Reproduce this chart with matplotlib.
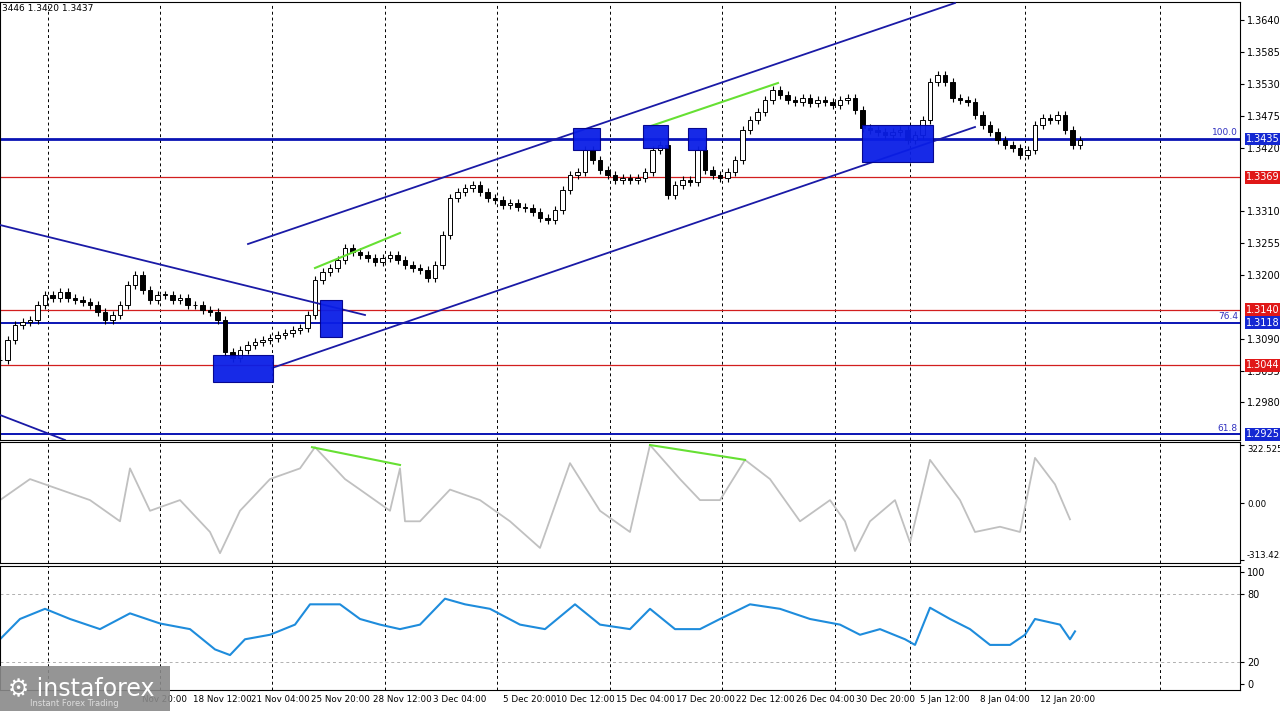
import matplotlib
matplotlib.use("Agg")
import matplotlib.pyplot as plt
from matplotlib.patches import Rectangle
import numpy as np

closes = [1.3053,1.3088,1.3114,1.3119,1.3122,1.3148,1.3166,1.3160,1.3171,1.3160,1.3157,1.3153,1.3148,1.3136,1.3122,1.3131,1.3148,1.3183,1.3200,1.3174,1.3157,1.3166,1.3166,1.3157,1.3160,1.3148,1.3148,1.3140,1.3136,1.3122,1.3067,1.3057,1.3071,1.3079,1.3084,1.3088,1.3091,1.3096,1.3100,1.3105,1.3109,1.3131,1.3191,1.3205,1.3212,1.3226,1.3247,1.3240,1.3235,1.3230,1.3223,1.3230,1.3235,1.3226,1.3217,1.3212,1.3209,1.3195,1.3217,1.3269,1.3333,1.3343,1.3350,1.3355,1.3343,1.3333,1.3330,1.3321,1.3324,1.3318,1.3316,1.3309,1.3299,1.3295,1.3312,1.3347,1.3373,1.3378,1.3416,1.3399,1.3381,1.3373,1.3364,1.3368,1.3364,1.3368,1.3378,1.3416,1.3425,1.3338,1.3355,1.3364,1.3361,1.3416,1.3381,1.3373,1.3368,1.3378,1.3399,1.3450,1.3468,1.3482,1.3502,1.3520,1.3511,1.3502,1.3499,1.3506,1.3497,1.3502,1.3499,1.3494,1.3502,1.3506,1.3485,1.3454,1.3450,1.3447,1.3442,1.3447,1.3450,1.3433,1.3442,1.3468,1.3533,1.3545,1.3533,1.3506,1.3502,1.3499,1.3476,1.3459,1.3447,1.3433,1.3425,1.3420,1.3407,1.3416,1.3459,1.3471,1.3468,1.3477,1.3450,1.3425,1.3433]

cci_x = [0,30,60,90,120,130,150,180,210,220,240,270,300,315,345,360,390,400,405,420,450,480,510,540,570,600,630,650,680,700,720,745,770,800,830,845,855,870,895,910,930,960,975,1000,1020,1035,1055,1070]
cci_v = [18,134,76,18,-99,193,-41,18,-158,-275,-41,134,193,310,134,76,-41,193,-99,-99,76,18,-99,-246,222,-41,-158,322,134,18,18,240,134,-99,18,-99,-263,-99,18,-216,240,18,-158,-129,-158,251,105,-88]

rsi_x = [0,20,45,70,100,130,160,190,215,230,245,270,295,310,340,360,380,400,420,445,465,490,520,545,575,600,630,650,675,700,720,750,780,810,840,860,880,905,915,930,950,970,990,1010,1025,1035,1060,1070,1075]
rsi_v = [40,58,67,58,49,63,54,49,31,26,40,44,53,71,71,58,53,49,53,76,71,67,53,49,71,53,49,67,49,49,58,71,67,58,53,44,49,40,35,68,58,49,35,35,44,58,53,40,47]

xtick_pos = [165,222,280,340,402,460,530,585,645,705,765,825,885,945,1005,1068]
xtick_lab = ["Nov 20:00","18 Nov 12:00","21 Nov 04:00","25 Nov 20:00","28 Nov 12:00","3 Dec 04:00","5 Dec 20:00","10 Dec 12:00","15 Dec 04:00","17 Dec 20:00","22 Dec 12:00","26 Dec 04:00","30 Dec 20:00","5 Jan 12:00","8 Jan 04:00","12 Jan 20:00"]
vgrid = [48,160,272,385,497,610,722,835,910,1025,1160]

price_ticks = [1.3640,1.3585,1.3530,1.3475,1.3420,1.3310,1.3255,1.3200,1.3090,1.3035,1.2980]
levels_blue = [(1.3435,"100.0"),(1.3118,"76.4"),(1.2925,"61.8")]
levels_red = [1.3369,1.3140,1.3044]

BW = 7.5  # px per bar
def bx(px): return px / BW
def py(y): return 1.3675 - 0.0001727 * y

fig = plt.figure(figsize=(12.8, 7.11), dpi=100)
W = 1240/1280
ax = fig.add_axes([0, 1-440/711, W, 438/711])
ax2 = fig.add_axes([0, 1-563/711, W, 121/711])
ax3 = fig.add_axes([0, 1-690/711, W, 124/711])
XMAX = bx(1240)
for a in (ax, ax2, ax3):
    a.set_xlim(0, XMAX)
    a.yaxis.tick_right()
    a.tick_params(axis='y', labelsize=7, length=3, pad=2)
    a.set_xticks([])
    for v in vgrid:
        a.axvline(bx(v), color='black', ls=(0, (3, 3)), lw=0.7)

ax.set_ylim(py(440), py(2))
opens = [closes[0]] + closes[:-1]
for i, (o, c) in enumerate(zip(opens, closes)):
    hi = max(o, c) + 0.0007
    lo = min(o, c) - 0.0007
    ax.vlines(i, lo, hi, color='black', lw=0.8, zorder=3)
    h = max(abs(c - o), 0.00005)
    ax.add_patch(Rectangle((i-0.32, min(o, c)), 0.64, h, facecolor='white' if c >= o else 'black',
                           edgecolor='black', lw=0.7, zorder=4))
ax.set_yticks(price_ticks)
ax.set_yticklabels([f"{t:.4f}" for t in price_ticks])
for lv, lab in levels_blue:
    ax.axhline(lv, color='#0a14b4', lw=2 if lv > 1.34 else 1.4, zorder=2)
    ax.text(XMAX-0.3, lv+0.0003, lab, color='#3030c0', fontsize=6.5, ha='right', va='bottom')
    ax.text(1.005, lv, f"{lv:.4f}", transform=ax.get_yaxis_transform(), fontsize=7, color='white',
            va='center', ha='left', bbox=dict(fc='#1428d2', ec='none', pad=1), zorder=10)
for lv in levels_red:
    ax.axhline(lv, color='#d21e1e', lw=0.9, zorder=2)
    ax.text(1.005, lv, f"{lv:.4f}", transform=ax.get_yaxis_transform(), fontsize=7, color='white',
            va='center', ha='left', bbox=dict(fc='#e01818', ec='none', pad=1), zorder=10)

navy = '#1a1aa6'
for (x1, y1, x2, y2) in [(248,244,955,3),(272,368,975,127),(0,225,365,315),(0,415,65,440)]:
    ax.plot([bx(x1), bx(x2)], [py(y1), py(y2)], color=navy, lw=1.3, zorder=5)
for (x1, y1, x2, y2) in [(315,268,400,233),(645,128,778,83)]:
    ax.plot([bx(x1), bx(x2)], [py(y1), py(y2)], color='#66e033', lw=1.5, zorder=5)
for (x1, x2, y1, y2) in [(213,273,355,382),(320,342,300,337),(573,600,128,150),(643,668,125,148),(688,706,128,150),(862,933,125,162)]:
    ax.add_patch(Rectangle((bx(x1), py(y2)), bx(x2-x1), py(y1)-py(y2), facecolor='#0a1ee6',
                           edgecolor='#00008a', lw=0.8, alpha=0.95, zorder=6))
ax.text(0.002, 0.995, "3446 1.3420 1.3437", transform=ax.transAxes, fontsize=6.5, va='top')

ax2.set_ylim(-313.4224*1.05, 322.5258*1.05)
ax2.plot([bx(v) for v in cci_x], cci_v, color='#c0c0c0', lw=1.3)
for (x1, v1, x2, v2) in [(312,310,400,212),(650,322,745,240)]:
    ax2.plot([bx(x1), bx(x2)], [v1, v2], color='#66e033', lw=1.5)
ax2.set_yticks([322.5258, 0, -313.4224])
ax2.set_yticklabels(["322.5258", "0.00", "-313.4224"])
ax2.tick_params(axis='y', labelsize=6.2)
ax2.get_yticklabels()[0].set_va('top')
ax2.get_yticklabels()[2].set_va('bottom')

ax3.set_ylim(-5, 105)
ax3.plot([bx(v) for v in rsi_x], rsi_v, color='#1e8cdc', lw=1.5)
for lv in (80, 20):
    ax3.axhline(lv, color='#b0b0b0', ls=(0, (3, 3)), lw=0.7)
ax3.set_yticks([100, 80, 20, 0])

for p, l in zip(xtick_pos, xtick_lab):
    fig.text(p/1280, 1-699/711, l, fontsize=6.3, ha='center', va='center')

fig.patches.append(Rectangle((0, 0), 170/1280, 45/711, transform=fig.transFigure, fc='#8a8a8a', ec='none', alpha=0.9, zorder=20))
fig.text(8/1280, 1-688/711, "\u2699 instaforex", fontsize=17, color='white', va='center', zorder=21)
fig.text(30/1280, 1-703/711, "Instant Forex Trading", fontsize=6, color='#dddddd', va='center', zorder=21)

fig.savefig("out.png", dpi=100)
